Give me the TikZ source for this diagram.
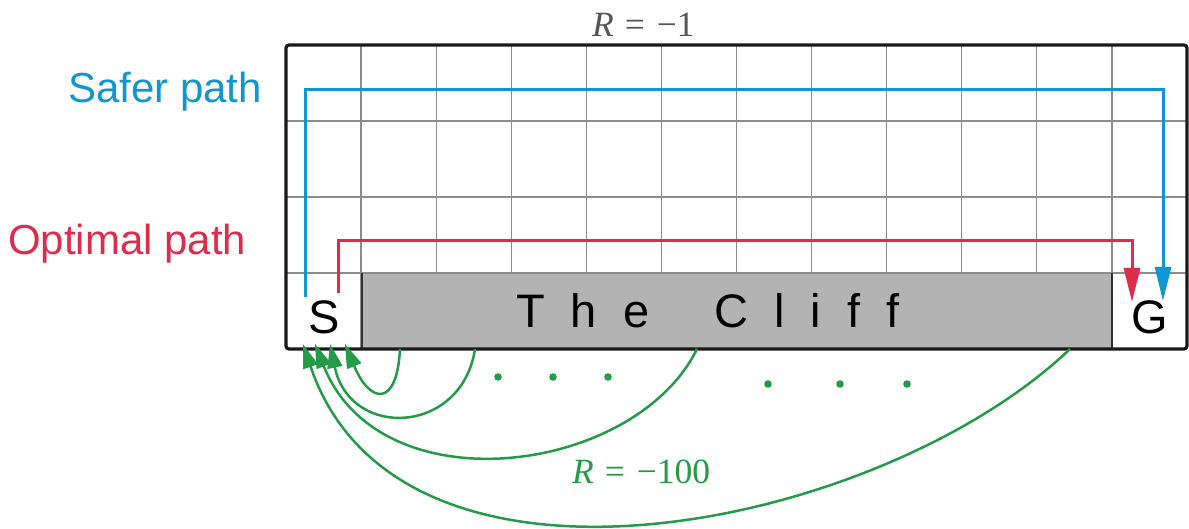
\documentclass[tikz,border=0pt]{standalone}
\usepackage{fontspec}
\newfontfamily\sansf{Liberation Sans}
\newfontfamily\seriff{Liberation Serif}
\usetikzlibrary{arrows.meta}
\definecolor{safeblue}{RGB}{16,150,208}
\definecolor{optred}{RGB}{222,45,75}
\definecolor{cliffgreen}{RGB}{35,155,72}
\definecolor{cliffgray}{RGB}{179,179,179}
\definecolor{gridgray}{RGB}{140,140,140}
\definecolor{labelgray}{RGB}{85,85,85}
\newcommand\lsp{\kern26pt}
\tikzset{
  gridline/.style={draw=gridgray, line width=1.2pt},
  border/.style={draw=black!90, line width=3.2pt, rounded corners=3pt},
  cliffedge/.style={draw=black!80, line width=1.6pt},
  saferpath/.style={draw=safeblue, line width=3pt, line join=miter, -{Triangle[length=34pt,width=16pt]}},
  optpath/.style={draw=optred, line width=3pt, line join=miter, -{Triangle[length=34pt,width=16pt]}},
  fall/.style={draw=cliffgreen, line width=2.5pt, -{Triangle[length=24pt,width=15pt]}},
  celltext/.style={font=\sansf\fontsize{47}{50}\selectfont, inner sep=0pt, anchor=base},
  pathlabel/.style={font=\sansf\fontsize{42}{46}\selectfont, inner sep=0pt, anchor=base west},
  rlabel/.style={font=\seriff\fontsize{35.5}{40}\selectfont, inner sep=0pt, anchor=base west},
  gdot/.style={fill=cliffgreen}
}
\begin{document}
\begin{tikzpicture}[x=1pt,y=-1pt]
\useasboundingbox (0,0) rectangle (1189,529);
% grid
\foreach \i in {1,...,11} {
  \draw[gridline] ({286+\i*75.083},45) -- ({286+\i*75.083},349);
}
\foreach \y in {121,197,273} {
  \draw[gridline] (286,\y) -- (1187,\y);
}
% cliff
\fill[cliffgray] (362,273) rectangle (1112,349);
\draw[gridline] (362,273) -- (1112,273);
\draw[cliffedge] (362,349) -- (362,273);
\draw[cliffedge] (1112,273) -- (1112,349);
% border
\draw[border] (286,45) rectangle (1187,349);
% texts
\node[celltext] (S) at (324,334) {S};
\node[celltext] (G) at (1149.5,334) {G};
\node[celltext, anchor=base west] (cliff) at (516,328) {T\lsp h\lsp e\lsp\ \lsp C\lsp l\lsp i\lsp f\lsp f};
\node[pathlabel, text=safeblue] (safer) at (68,103) {Safer path};
\node[pathlabel, text=optred] (optimal) at (8,255) {Optimal path};
\node[rlabel, text=labelgray] (rtop) at (592,37) {\itshape R\upshape\kern11pt=\kern12pt−1};
\node[rlabel, text=cliffgreen] (rbot) at (572,483) {\itshape R\upshape\kern11pt=\kern12pt−100};
% paths
\coordinate (b0) at (305,297);
\coordinate (b1) at (305,90);
\coordinate (b2) at (1163,90);
\coordinate (b3) at (1163,301);
\draw[saferpath] (b0) -- (b1) -- (b2) -- (b3);
\coordinate (r0) at (338,293);
\coordinate (r1) at (338,241);
\coordinate (r2) at (1132,241);
\coordinate (r3) at (1132,302);
\draw[optpath] (r0) -- (r1) -- (r2) -- (r3);
% falls
\coordinate (s1) at (400,349);
\coordinate (s2) at (475,349);
\coordinate (s3) at (697,349);
\coordinate (s4) at (1070,349);
\coordinate (t1) at (345,344);
\coordinate (t2) at (330,344);
\coordinate (t3) at (315,344);
\coordinate (t4) at (303,344);
\draw[fall] (s1) .. controls (397,408) and (370,404) .. (t1);
\draw[fall] (s2) .. controls (462,435) and (350,440) .. (t2);
\draw[fall] (s3) .. controls (635,475) and (380,508) .. (t3);
\draw[fall] (s4) .. controls (880,530) and (399,629) .. (t4);
% dots
\foreach \x in {498,553,608} { \fill[gdot] (\x,377) circle (3.8); }
\foreach \x in {768,840,907} { \fill[gdot] (\x,384) circle (3.8); }
\end{tikzpicture}
\end{document}
